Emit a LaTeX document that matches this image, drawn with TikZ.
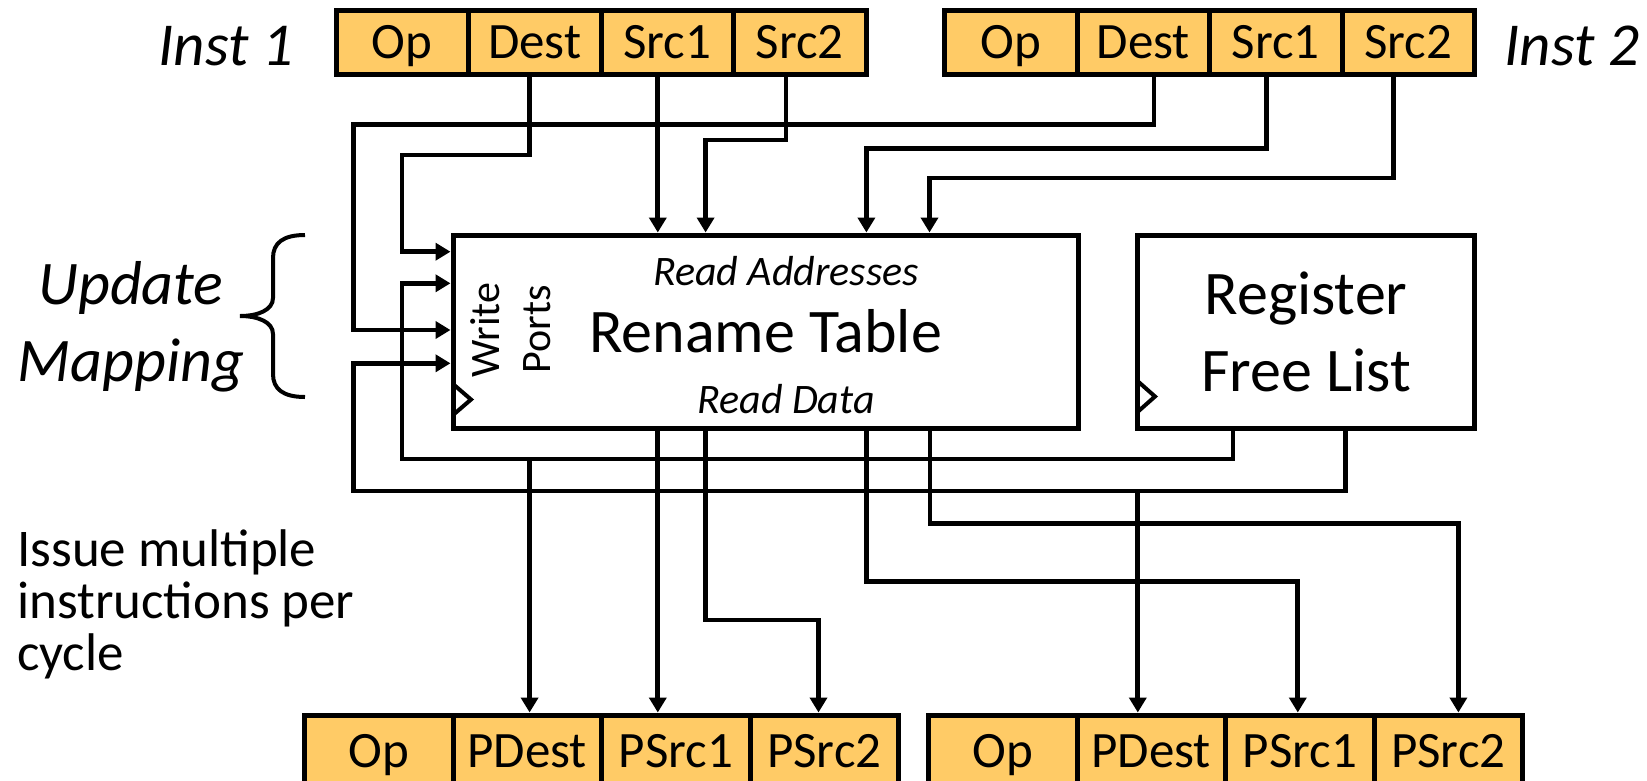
\documentclass[tikz,border=0pt]{standalone}
\usepackage{fontspec}
\setmainfont{Carlito}
\usetikzlibrary{arrows.meta}
\definecolor{instfill}{HTML}{FFCB66}
\begin{document}
\begin{tikzpicture}[x=1pt,y=-1pt,
  wire/.style={line width=4.8pt},
  arr/.style={-{Triangle[length=15pt,width=17pt]}},
  fieldcell/.style={draw,line width=5pt,fill=instfill,inner sep=0pt,text height=32pt,text depth=0pt,font=\fontsize{51}{60}\selectfont},
  topcell/.style={fieldcell,minimum width=132.5pt,minimum height=64pt},
  botcell/.style={fieldcell,minimum width=148.5pt,minimum height=72pt},
  block/.style={draw,line width=5pt,fill=white,inner sep=0pt,align=center,font=\fontsize{62}{77}\selectfont},
  lbl/.style={inner sep=0pt,anchor=base},
  clk/.style={line width=4pt},
]
\useasboundingbox (0,0) rectangle (1647,780);
\fill[white] (0,0) rectangle (1647,780);
\clip (0,0) rectangle (1647,780);

% instruction fields (top)
\node[topcell] (i1op)   at (402.25,42) {Op};
\node[topcell] (i1dest) at (534.75,42) {Dest};
\node[topcell] (i1src1) at (667.25,42) {Src1};
\node[topcell] (i1src2) at (799.75,42) {Src2};
\node[topcell] (i2op)   at (1010.75,42) {Op};
\node[topcell] (i2dest) at (1143.25,42) {Dest};
\node[topcell] (i2src1) at (1275.75,42) {Src1};
\node[topcell] (i2src2) at (1408.25,42) {Src2};

% renamed fields (bottom)
\node[botcell] (o1op)    at (378.75,751) {Op};
\node[botcell] (o1pdest) at (527.25,751) {PDest};
\node[botcell] (o1psrc1) at (675.75,751) {PSrc1};
\node[botcell] (o1psrc2) at (824.25,751) {PSrc2};
\node[botcell] (o2op)    at (1002.75,751) {Op};
\node[botcell] (o2pdest) at (1151.25,751) {PDest};
\node[botcell] (o2psrc1) at (1299.75,751) {PSrc1};
\node[botcell] (o2psrc2) at (1448.25,751) {PSrc2};

% blocks
\node[block,minimum width=625pt,minimum height=193pt] (rt) at (765.5,331.5) {Rename Table};
\node[block,minimum width=337pt,minimum height=193pt] (fl) at (1306,331.5) {Register\\Free List};
\draw[clk] (453,384) -- (471,399.5) -- (453,415);
\draw[clk] (1137.5,381) -- (1155,396.5) -- (1137.5,412);

% labels
\node[lbl,font=\fontsize{42}{50}\selectfont\itshape] (raddr) at (786,285) {Read Addresses};
\node[lbl,font=\fontsize{42}{50}\selectfont\itshape] (rdata) at (786,413) {Read Data};
\node[lbl,rotate=90,font=\fontsize{42}{49}\selectfont] (wr) at (499,330) {Write};
\node[lbl,rotate=90,font=\fontsize{42}{49}\selectfont] (po) at (550,329.5) {Ports};
\node[lbl,font=\fontsize{61}{72}\selectfont\itshape] (inst1) at (226,65) {Inst 1};
\node[lbl,font=\fontsize{61}{72}\selectfont\itshape] (inst2) at (1572,65) {Inst 2};
\node[inner sep=0pt,align=center,font=\fontsize{62}{77}\selectfont\itshape] (upd) at (131,327) {Update\\Mapping};
\node[inner sep=0pt,align=left,anchor=north west,font=\fontsize{53}{52}\selectfont] (issue) at (17,529) {Issue multiple\\instructions per\\cycle};

% brace
\draw[line width=4pt] (305,235) .. controls (283,235) and (273,243) .. (273,258) -- (273,298)
  .. controls (273,310) and (258,316) .. (240,316)
  .. controls (258,316) and (273,322) .. (273,334) -- (273,374)
  .. controls (273,389) and (283,397) .. (305,397);

% wire start points
\coordinate (a1) at ([xshift=-5.15pt]i1dest.south);
\coordinate (a2) at ([xshift=-9.45pt]i1src1.south);
\coordinate (a3) at ([xshift=-13.75pt]i1src2.south);
\coordinate (b1) at ([xshift=10.75pt]i2dest.south);
\coordinate (b2) at ([xshift=-9.25pt]i2src1.south);
\coordinate (b3) at ([xshift=-14.55pt]i2src2.south);
\coordinate (f1) at ([xshift=-73pt]fl.south);
\coordinate (f2) at ([xshift=39.5pt]fl.south);
\coordinate (r1) at (a2 |- rt.south);
\coordinate (r2) at (705.6,0 |- rt.south);
\coordinate (r3) at (866.6,0 |- rt.south);
\coordinate (r4) at (930,0 |- rt.south);
\coordinate (j1) at (529.6,459);
\coordinate (j2) at (1137.8,491);

% architectural -> rename table
\draw[wire,arr] (a1) |- (402,155) |- (rt.west |- 0,251.7);
\draw[wire,arr] (a2) -- (a2 |- rt.north);
\draw[wire,arr] (a3) |- (705.6,140) -- (705.6,140 |- rt.north);
\draw[wire,arr] (b1) |- (353.6,124.5) |- (rt.west |- 0,330);
\draw[wire,arr] (b2) |- (866.4,148.3) -- (866.4,148.3 |- rt.north);
\draw[wire,arr] (b3) |- (929.5,178) -- (929.5,178 |- rt.north);

% free list outputs
\draw[wire,arr] (f1) |- (402,459) |- (rt.west |- 0,283.3);
\draw[wire,arr] (j1) -- (j1 |- o1pdest.north);
\draw[wire,arr] (f2) |- (353.6,491) |- (rt.west |- 0,363.3);
\draw[wire,arr] (j2) -- (j2 |- o2pdest.north);

% read data
\draw[wire,arr] (r1) -- (r1 |- o1psrc1.north);
\draw[wire,arr] (r2) |- (818.5,620) -- (818.5,620 |- o1psrc2.north);
\draw[wire,arr] (r3) |- (1297.8,581.7) -- (1297.8,581.7 |- o2psrc1.north);
\draw[wire,arr] (r4) |- (1458.4,523.3) -- (1458.4,523.3 |- o2psrc2.north);
\end{tikzpicture}
\end{document}
